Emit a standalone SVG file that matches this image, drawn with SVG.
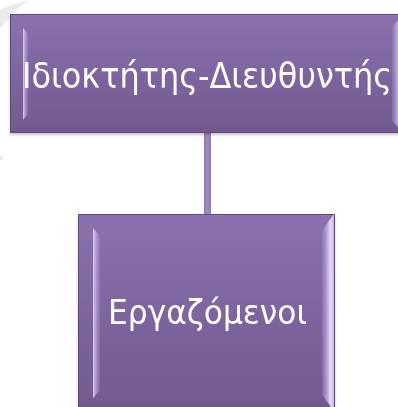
<svg xmlns="http://www.w3.org/2000/svg" width="398" height="407" viewBox="0 0 398 407">
  <style>
    .label { font-family: "DejaVu Sans", Verdana, sans-serif; fill: #ffffff; text-anchor: middle; }
    .frame { stroke: #5f4c79; stroke-width: 1; }
  </style>
  <defs>
    <linearGradient id="boxFill" x1="0" y1="0" x2="0" y2="1">
      <stop offset="0" stop-color="#8b71af"/>
      <stop offset="1" stop-color="#72598f"/>
    </linearGradient>
    <linearGradient id="leftFace" x1="0" y1="0" x2="1" y2="0">
      <stop offset="0" stop-color="#e2d2fb" stop-opacity="0.95"/>
      <stop offset="1" stop-color="#a58bca" stop-opacity="0.3"/>
    </linearGradient>
    <linearGradient id="rightFace" x1="0" y1="0" x2="1" y2="0">
      <stop offset="0" stop-color="#9c83c0" stop-opacity="0.4"/>
      <stop offset="0.7" stop-color="#e8dbff"/>
      <stop offset="1" stop-color="#c6b0e6"/>
    </linearGradient>
    <linearGradient id="stem" x1="0" y1="0" x2="1" y2="0">
      <stop offset="0" stop-color="#8f76b2"/>
      <stop offset="0.5" stop-color="#a38bc4"/>
      <stop offset="1" stop-color="#8f76b2"/>
    </linearGradient>
    <filter id="shadow" x="-10%" y="-10%" width="120%" height="130%">
      <feDropShadow dx="0" dy="2" stdDeviation="1.5" flood-color="#000000" flood-opacity="0.22"/>
    </filter>
  </defs>

  <rect width="398" height="407" fill="#ffffff"/>

  <!-- faint background ring -->
  <path d="M30,0 A110,110 0 0 0 0,10 L0,128 A80,80 0 0 1 8,20 A70,70 0 0 1 30,0 Z" fill="#ececec"/>
  <rect x="0" y="156" width="3" height="4" fill="#ececec"/>

  <g id="connectors">
    <rect x="204" y="133" width="7" height="82" fill="url(#stem)"/>
  </g>

  <g id="node-owner" filter="url(#shadow)">
    <rect class="frame" x="10.5" y="14.5" width="394" height="118" fill="url(#boxFill)"/>
    <polygon points="23,28 28,34 28,114 23,120" fill="url(#leftFace)"/>
    <polygon points="404,14 392,27 392,121 404,133" fill="url(#rightFace)"/>
    <text class="label" x="207" y="88" font-size="35" textLength="370" lengthAdjust="spacingAndGlyphs">Ιδιοκτήτης-Διευθυντής</text>
  </g>

  <g id="node-employees" filter="url(#shadow)">
    <rect class="frame" x="78.5" y="214.5" width="256" height="196" fill="url(#boxFill)"/>
    <polygon points="93,228 100,236 100,390 93,398" fill="url(#leftFace)"/>
    <polygon points="334,214 322,230 322,395 334,411" fill="url(#rightFace)"/>
    <text class="label" x="207.5" y="324" font-size="33" textLength="199" lengthAdjust="spacingAndGlyphs">Εργαζόμενοι</text>
  </g>
</svg>
